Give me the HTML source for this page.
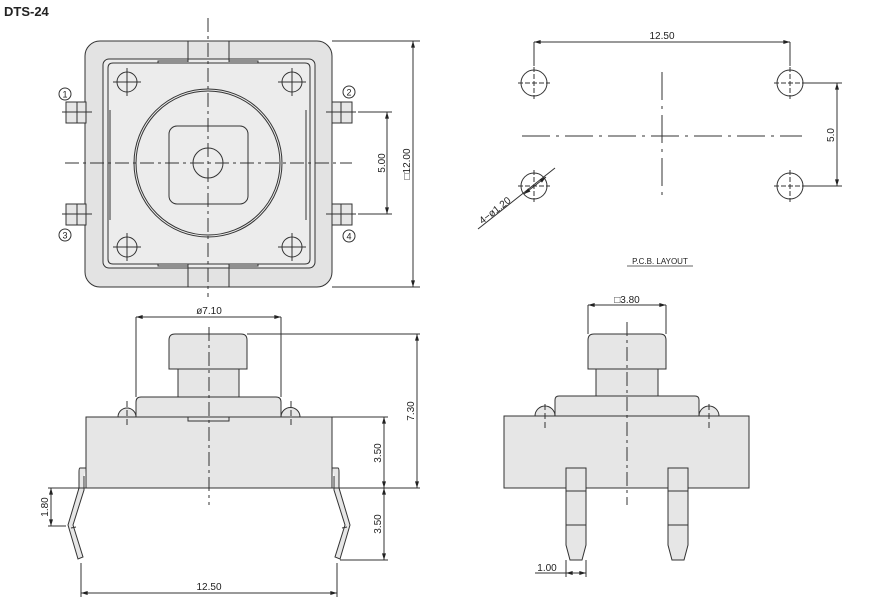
<!DOCTYPE html>
<html><head><meta charset="utf-8"><style>
html,body{margin:0;padding:0;background:#fff;}
svg{display:block;}
text{font-family:"Liberation Sans",sans-serif;fill:#222;}
</style></head><body>
<svg width="874" height="610" viewBox="0 0 874 610" xmlns="http://www.w3.org/2000/svg">
<defs>
<marker id="a" viewBox="0 0 10 6" refX="10" refY="3" markerWidth="8" markerHeight="4" orient="auto-start-reverse"><path d="M0,0 L10,3 L0,6 z" fill="#222"/></marker>
</defs>
<text x="4" y="16" font-size="13" font-weight="bold">DTS-24</text>

<g stroke="#333" stroke-width="1" fill="none">
<!-- TOP VIEW -->
<rect x="85" y="41" width="247" height="246" rx="15" fill="#e3e3e3"/>
<rect x="103" y="59" width="212" height="209" rx="6" fill="#ececec"/>
<path d="M108,68 Q108,63 113,63 L305,63 Q310,63 310,68 L310,259 Q310,264 305,264 L113,264 Q108,264 108,259 Z" fill="none"/>
<path d="M188,41 L188,62 M229,41 L229,62 M188,287 L188,264 M229,287 L229,264" />
<path d="M158,63 L158,61 L188,61 M229,61 L258,61 L258,63 M158,264 L158,266 L188,266 M229,266 L258,266 L258,264"/>
<path d="M110,110 L110,220 M306,110 L306,220"/>
<circle cx="208" cy="163" r="74"/>
<circle cx="208" cy="163" r="72"/>
<rect x="169" y="126" width="79" height="78" rx="8"/>
<circle cx="208" cy="163" r="15"/>
<g>
<circle cx="127" cy="82" r="10"/><path d="M113,82h28M127,68v28"/>
<circle cx="292" cy="82" r="10"/><path d="M278,82h28M292,68v28"/>
<circle cx="127" cy="247" r="10"/><path d="M113,247h28M127,233v28"/>
<circle cx="292" cy="247" r="10"/><path d="M278,247h28M292,233v28"/>
</g>
<!-- pins -->
<rect x="66" y="102" width="20" height="21" fill="#e6e6e6"/><path d="M77,102v21M62,112h30"/>
<rect x="66" y="204" width="20" height="21" fill="#e6e6e6"/><path d="M77,204v21M62,214h30"/>
<rect x="332" y="102" width="20" height="21" fill="#e6e6e6"/><path d="M341,102v21M326,112h30"/>
<rect x="332" y="204" width="20" height="21" fill="#e6e6e6"/><path d="M341,204v21M326,214h30"/>
<circle cx="65" cy="94" r="6"/><circle cx="349" cy="92" r="6"/><circle cx="65" cy="235" r="6"/><circle cx="349" cy="236" r="6"/>
<!-- centerlines -->
<path d="M208,18V297M65,163H352" stroke-dasharray="14 4 3 4"/>
<!-- dims -->
<path d="M358,112H392M358,214H392M332,41H420M332,287H420"/>
<path d="M387,112V214" marker-start="url(#a)" marker-end="url(#a)"/>
<path d="M413,41V287" marker-start="url(#a)" marker-end="url(#a)"/>

<!-- PCB LAYOUT -->
<g stroke-dasharray="5 2">
<path d="M518,83h32M534,67v32M774,83h32M790,67v32M518,186h32M534,170v32M774,186h32M790,170v32"/>
</g>
<circle cx="534" cy="83" r="13"/><circle cx="790" cy="83" r="13"/><circle cx="534" cy="186" r="13"/><circle cx="790" cy="186" r="13"/>
<path d="M534,42V66M790,42V66M806,83H842M806,186H842"/>
<path d="M534,42H790" marker-start="url(#a)" marker-end="url(#a)"/>
<path d="M837,83V186" marker-start="url(#a)" marker-end="url(#a)"/>
<path d="M522,136H802M662,72V198" stroke-dasharray="28 6 3 6"/>
<path d="M478,229L555,168"/>
<path d="M524,194L546,177" marker-start="url(#a)" marker-end="url(#a)"/>
<path d="M627,266H693" stroke-width="0.8"/>

<!-- FRONT VIEW -->
<path d="M86,468 L80,468 Q79,468 79,472 L79,488 L68,525 L78,559 L83,557 L73,525 L84,490 L84,476" fill="#e6e6e6"/>
<path d="M71,528 L76,527" />
<path d="M332,468 L338,468 Q339,468 339,472 L339,488 L350,525 L340,559 L335,557 L345,525 L334,490 L334,476" fill="#e6e6e6"/>
<path d="M342,528 L347,527"/>
<path d="M118,417 A9,9 0 0 1 136,417" fill="#e6e6e6"/>
<path d="M281,417 A9,9 0 0 1 300,417" fill="#e6e6e6"/>
<path d="M136,417 L136,402 Q136,397 141,397 L276,397 Q281,397 281,402 L281,417" fill="#e6e6e6"/>
<rect x="178" y="369" width="61" height="28" fill="#e6e6e6"/>
<path d="M169,369 L169,340 Q169,334 175,334 L241,334 Q247,334 247,340 L247,369 Z" fill="#e6e6e6"/>
<rect x="86" y="417" width="246" height="71" fill="#e6e6e6"/>
<path d="M188,417V421H229V417"/>
<path d="M127,401V427M291,401V427" stroke-dasharray="6 3"/>
<path d="M209,327V505" stroke-dasharray="14 4 3 4"/>
<path d="M136,317V397M281,317V397M247,334H420M48,488H420M332,417H388M340,560H388M48,526H66M81,563V597M337,563V597"/>
<path d="M136,317H281" marker-start="url(#a)" marker-end="url(#a)"/>
<path d="M417,334V488" marker-start="url(#a)" marker-end="url(#a)"/>
<path d="M384,417V488" marker-start="url(#a)" marker-end="url(#a)"/>
<path d="M384,488V560" marker-start="url(#a)" marker-end="url(#a)"/>
<path d="M51,488V526" marker-start="url(#a)" marker-end="url(#a)"/>
<path d="M81,593H337" marker-start="url(#a)" marker-end="url(#a)"/>

<!-- SIDE VIEW -->
<path d="M535,416 A10,10 0 0 1 555,416" fill="#e6e6e6"/>
<path d="M699,416 A10,10 0 0 1 719,416" fill="#e6e6e6"/>
<path d="M555,416 L555,400 Q555,396 559,396 L695,396 Q699,396 699,400 L699,416" fill="#e6e6e6"/>
<rect x="596" y="369" width="62" height="27" fill="#e6e6e6"/>
<path d="M588,369 L588,340 Q588,334 594,334 L660,334 Q666,334 666,340 L666,369 Z" fill="#e6e6e6"/>
<rect x="504" y="416" width="245" height="72" fill="#e6e6e6"/>
<path d="M566,488 L566,468 L586,468 L586,545 L582,560 L570,560 L566,545 Z M566,491H586M566,525H586" fill="#e6e6e6"/>
<path d="M668,488 L668,468 L688,468 L688,545 L684,560 L672,560 L668,545 Z M668,491H688M668,525H688" fill="#e6e6e6"/>
<path d="M545,404V428M709,404V428" stroke-dasharray="6 3"/>
<path d="M627,322V505" stroke-dasharray="14 4 3 4"/>
<path d="M588,305V334M666,305V334M566,560V577M586,560V577M535,573H566"/>
<path d="M588,305H666" marker-start="url(#a)" marker-end="url(#a)"/>
<path d="M566,573H586" marker-start="url(#a)" marker-end="url(#a)"/>
</g>

<g font-size="10">
<text x="65" y="97.5" font-size="9" text-anchor="middle">1</text>
<text x="349" y="95.5" font-size="9" text-anchor="middle">2</text>
<text x="65" y="238.5" font-size="9" text-anchor="middle">3</text>
<text x="349" y="239.5" font-size="9" text-anchor="middle">4</text>
<text transform="translate(385,163) rotate(-90)" text-anchor="middle">5.00</text>
<text transform="translate(410,164) rotate(-90)" text-anchor="middle">□12.00</text>
<text x="662" y="39" text-anchor="middle">12.50</text>
<text transform="translate(834,135) rotate(-90)" text-anchor="middle">5.0</text>
<text transform="translate(497,213) rotate(-38)" text-anchor="middle">4−ø1.20</text>
<text x="660" y="264" font-size="8" text-anchor="middle">P.C.B.  LAYOUT</text>
<text x="209" y="314" text-anchor="middle">ø7.10</text>
<text transform="translate(414,411) rotate(-90)" text-anchor="middle">7.30</text>
<text transform="translate(381,453) rotate(-90)" text-anchor="middle">3.50</text>
<text transform="translate(381,524) rotate(-90)" text-anchor="middle">3.50</text>
<text transform="translate(48,507) rotate(-90)" text-anchor="middle">1.80</text>
<text x="209" y="590" text-anchor="middle">12.50</text>
<text x="627" y="303" text-anchor="middle">□3.80</text>
<text x="547" y="571" text-anchor="middle">1.00</text>
</g>
</svg>
</body></html>
